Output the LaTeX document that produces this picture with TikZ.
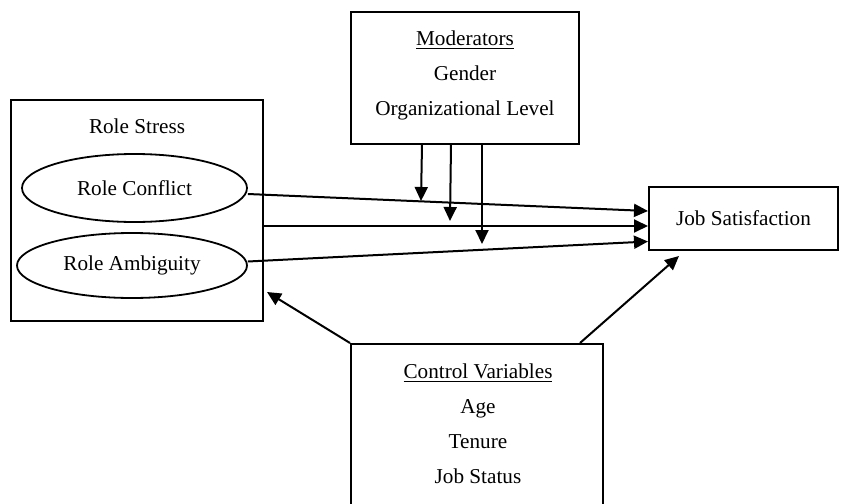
\documentclass[tikz,border=0pt]{standalone}
\usepackage{fontspec}
\setmainfont{Liberation Serif}
\usetikzlibrary{shapes.geometric,arrows.meta}

\begin{document}
\begin{tikzpicture}[x = 0.5pt, y = -0.5pt,
	box/.style = {draw, line width = 1pt, inner sep = 0pt},
	oval/.style = {draw, ellipse, line width = 0.9pt, inner sep = 0pt, font = \fontsize{10.6}{12}\selectfont},
	txt/.style = {inner sep = 0pt, anchor = base, font = \fontsize{10.6}{12}\selectfont},
	arr/.style = {line width = 1pt, -{Triangle[length = 7pt, width = 6.5pt]}}]
	\useasboundingbox (0,0) rectangle (848,504);
	\clip (0,0) rectangle (848,504);

	% boxes
	\node[box, minimum width = 126pt, minimum height = 110.5pt](RS) at (137,210.5){};
	\node[box, minimum width = 114pt, minimum height = 66pt](Mod) at (465,78){};
	\node[box, minimum width = 94.5pt, minimum height = 31.5pt, font = \fontsize{10.6}{12}\selectfont](JS) at (743.5,218.5){Job Satisfaction};
	\node[box, minimum width = 126pt, minimum height = 93pt](CV) at (477,437){};

	% ovals in role stress
	\node[oval, minimum width = 112.5pt, minimum height = 34pt](RC) at (134.5,188){Role Conflict};
	\node[oval, minimum width = 115pt, minimum height = 32.5pt](RA) at (132,265.5){Role Ambiguity};

	% texts
	\node[txt](RSt) at (137,133){Role Stress};
	\node[txt](ModT) at (465,45){\underline{Moderators}};
	\node[txt](Gen) at (465,80){Gender};
	\node[txt](OL) at (465,115){Organizational Level};
	\node[txt](CVT) at (478,378){\underline{Control Variables}};
	\node[txt](Age) at (478,413){Age};
	\node[txt](Ten) at (478,448){Tenure};
	\node[txt](JSt) at (478,483){Job Status};

	% free ends
	\coordinate (M1) at (421,201);
	\coordinate (M2) at (450,221);
	\coordinate (M3) at (482,244);
	\coordinate (C1) at (267,292);
	\coordinate (C2) at (679,256);

	% paths
	\draw[arr] ([yshift = -3pt]RC.east) -- ([yshift = 3.75pt]JS.west);
	\draw[arr] ([yshift = -7.75pt]RS.east) -- ([yshift = -3.75pt]JS.west);
	\draw[arr] ([yshift = 2pt]RA.east) -- ([yshift = -11.5pt]JS.west);
	\draw[arr] ([xshift = -21.5pt]Mod.south) -- (M1);
	\draw[arr] ([xshift = -7pt]Mod.south) -- (M2);
	\draw[arr] ([xshift = 8.5pt]Mod.south) -- (M3);
	\draw[arr] (CV.north west) -- (C1);
	\draw[arr] ([xshift = 51.5pt]CV.north) -- (C2);
\end{tikzpicture}
\end{document}
